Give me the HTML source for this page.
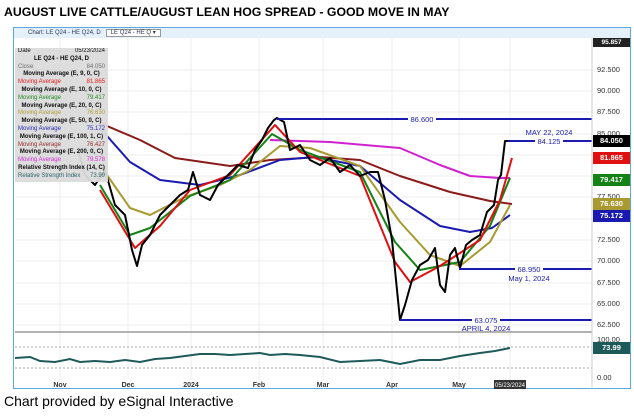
<!DOCTYPE html>
<html><head><style>
body{margin:0;width:634px;height:419px;background:#fff;font-family:"Liberation Sans",sans-serif;overflow:hidden;position:relative}
.t{position:absolute;left:4px;top:5px;font-weight:bold;font-size:12.3px;color:#000}
.c{position:absolute;left:4px;top:393px;font-size:14px;color:#000}
.lg{position:absolute;left:15px;top:48px;width:93px;height:134px;background:#dcdcdc;font-size:6px;line-height:7.8px;opacity:.95}
.lg div{display:flex;justify-content:space-between;padding:0 3px}
.lg .h{justify-content:center;font-weight:bold;color:#000}
.bx{position:absolute;left:593px;width:37px;height:12px;color:#fff;font-size:7.5px;font-weight:bold;text-align:center;line-height:12px}
.ax{position:absolute;left:597px;font-size:7.5px;color:#333}
</style></head><body>
<div class="t">AUGUST LIVE CATTLE/AUGUST LEAN HOG SPREAD -  GOOD MOVE IN MAY</div>
<div style="position:absolute;left:13px;top:27px;width:618px;height:362px;border:1px solid #5aa9e0;box-sizing:border-box"></div>
<div style="position:absolute;left:14px;top:28px;width:616px;height:10px;background:#e4f1fb;font-size:6px;color:#335;line-height:10px;padding-left:14px;box-sizing:border-box">Chart: LE Q24 - HE Q24, D &nbsp;&nbsp;<span style="border:1px solid #999;background:#fff;padding:0 4px">LE Q24 - HE Q ▾</span></div>
<svg width="634" height="419" style="position:absolute;left:0;top:0">
<g stroke="#eee" stroke-width="1">
<line x1="60" y1="38" x2="60" y2="380"/><line x1="128" y1="38" x2="128" y2="380"/><line x1="191" y1="38" x2="191" y2="380"/><line x1="259" y1="38" x2="259" y2="380"/><line x1="323" y1="38" x2="323" y2="380"/><line x1="392" y1="38" x2="392" y2="380"/><line x1="459" y1="38" x2="459" y2="380"/><line x1="510" y1="38" x2="510" y2="380"/>
<line x1="15" y1="70" x2="592" y2="70"/><line x1="15" y1="91" x2="592" y2="91"/><line x1="15" y1="112" x2="592" y2="112"/><line x1="15" y1="134" x2="592" y2="134"/><line x1="15" y1="155" x2="592" y2="155"/><line x1="15" y1="176" x2="592" y2="176"/><line x1="15" y1="197" x2="592" y2="197"/><line x1="15" y1="219" x2="592" y2="219"/><line x1="15" y1="240" x2="592" y2="240"/><line x1="15" y1="261" x2="592" y2="261"/><line x1="15" y1="283" x2="592" y2="283"/><line x1="15" y1="304" x2="592" y2="304"/><line x1="15" y1="325" x2="592" y2="325"/>
</g>
<line x1="15" y1="332" x2="592" y2="332" stroke="#999" stroke-width="1.5"/>
<line x1="15" y1="347" x2="592" y2="347" stroke="#aaa" stroke-dasharray="2,2"/>
<line x1="15" y1="368" x2="592" y2="368" stroke="#aaa" stroke-dasharray="2,2"/>
<g fill="none" stroke-width="2" stroke-linejoin="round">
<polyline stroke="#8b1a1a" points="100,123 140,140 175,158 230,166 270,160 320,157 360,160 400,176 450,192 490,201 512,204"/>
<polyline stroke="#d020d0" points="270,140 330,142 400,148 440,165 470,176 500,178 510,178"/>
<polyline stroke="#1a1ab0" points="100,128 130,162 160,180 200,185 240,175 280,160 315,157 360,166 400,200 440,226 470,232 492,228 510,215"/>
<polyline stroke="#a89a30" points="100,165 130,208 150,215 185,197 220,185 250,170 280,146 310,148 360,166 400,222 430,255 460,266 490,242 510,205"/>
<polyline stroke="#148214" points="100,185 130,235 150,228 190,196 230,180 272,134 300,150 360,172 395,242 420,270 460,262 490,226 510,178"/>
<polyline stroke="#e01010" points="100,190 135,248 160,226 190,190 230,175 275,125 300,152 360,176 395,262 410,282 440,266 480,240 500,200 512,158"/>
<polyline stroke="#000" points="78,150 85,175 95,185 105,170 115,205 125,215 132,250 137,266 142,245 150,235 160,215 170,205 180,195 188,190 193,172 200,195 210,200 218,185 228,175 238,165 248,168 255,150 262,140 268,128 274,120 277,118 284,122 290,150 300,145 310,160 320,165 330,158 340,172 350,165 360,176 370,172 378,172 385,200 392,240 396,280 400,320 405,305 412,280 420,265 428,260 435,248 440,285 445,292 450,255 455,248 460,268 466,245 472,240 480,235 487,212 494,205 498,180 501,175 505,141 510,141"/>
</g>
<g stroke="#1a1ab0" stroke-width="2">
<line x1="277" y1="119" x2="592" y2="119"/><line x1="508" y1="141" x2="592" y2="141"/><line x1="459" y1="269" x2="592" y2="269"/><line x1="400" y1="320" x2="592" y2="320"/>
</g>
<g font-size="7.5" fill="#1a1ab0" text-anchor="middle" font-family="Liberation Sans">
<rect x="408" y="115" width="28" height="8" fill="#fff"/><text x="422" y="122">86.600</text>
<text x="549" y="135">MAY 22, 2024</text><rect x="535" y="137" width="28" height="8" fill="#fff"/><text x="549" y="144">84.125</text>
<rect x="515" y="265" width="28" height="8" fill="#fff"/><text x="529" y="272">68.950</text><text x="529" y="281">May 1, 2024</text>
<rect x="472" y="316" width="28" height="8" fill="#fff"/><text x="486" y="323">63.075</text><text x="486" y="331">APRIL 4, 2024</text>
</g>
<polyline fill="none" stroke="#1f5a5a" stroke-width="2" points="15,358 30,357 40,361 55,362 70,359 80,362 95,361 110,362 125,360 140,362 155,359 170,358 185,356 200,354 215,354 230,355 245,354 260,353 270,355 285,354 300,355 320,357 340,362 360,361 380,360 400,364 420,360 440,360 460,356 480,353 495,351 510,348"/>
<g font-size="7" fill="#333" font-weight="bold" font-family="Liberation Sans" text-anchor="middle">
<text x="60" y="387">Nov</text><text x="128" y="387">Dec</text><text x="191" y="387">2024</text><text x="259" y="387">Feb</text><text x="323" y="387">Mar</text><text x="392" y="387">Apr</text><text x="459" y="387">May</text>
</g>
<rect x="494" y="380" width="32" height="9" fill="#333"/><text x="510" y="387" font-size="6" fill="#fff" text-anchor="middle" font-family="Liberation Sans">05/23/2024</text>
<line x1="592" y1="38" x2="592" y2="389" stroke="#ccc"/>
</svg>
<div class="ax" style="top:65px">92.500</div><div class="ax" style="top:86px">90.000</div><div class="ax" style="top:107px">87.500</div><div class="ax" style="top:129px">85.000</div><div class="ax" style="top:192px">77.500</div><div class="ax" style="top:235px">72.500</div><div class="ax" style="top:256px">70.000</div><div class="ax" style="top:278px">67.500</div><div class="ax" style="top:299px">65.000</div><div class="ax" style="top:320px">62.500</div>
<div class="ax" style="top:335px">100.00</div><div class="ax" style="top:373px">0.00</div>
<div class="bx" style="top:38px;background:#222;height:9px;line-height:9px;font-size:6.5px">95.857</div>
<div class="bx" style="top:135px;background:#000">84.050</div>
<div class="bx" style="top:152px;background:#e01010">81.865</div>
<div class="bx" style="top:174px;background:#148214">79.417</div>
<div class="bx" style="top:198px;background:#a89a30">76.630</div>
<div class="bx" style="top:210px;background:#1a1ab0">75.172</div>
<div class="bx" style="top:342px;background:#1f5a5a">73.99</div>
<div class="lg">
<div><span>Date</span><span>05/23/2024</span></div>
<div class="h">LE Q24 - HE Q24, D</div>
<div style="color:#666"><span>Close</span><span>84.050</span></div>
<div class="h">Moving Average (E, 9, 0, C)</div>
<div style="color:#e01010"><span>Moving Average</span><span>81.865</span></div>
<div class="h">Moving Average (E, 10, 0, C)</div>
<div style="color:#148214"><span>Moving Average</span><span>79.417</span></div>
<div class="h">Moving Average (E, 20, 0, C)</div>
<div style="color:#a89a30"><span>Moving Average</span><span>76.630</span></div>
<div class="h">Moving Average (E, 50, 0, C)</div>
<div style="color:#1a1ab0"><span>Moving Average</span><span>75.172</span></div>
<div class="h">Moving Average (E, 100, 1, C)</div>
<div style="color:#8b1a1a"><span>Moving Average</span><span>76.427</span></div>
<div class="h">Moving Average (E, 200, 0, C)</div>
<div style="color:#d020d0"><span>Moving Average</span><span>79.578</span></div>
<div class="h">Relative Strength Index (14, C)</div>
<div style="color:#1f5a5a"><span>Relative Strength Index</span><span>73.99</span></div>
</div>
<div class="c">Chart provided by eSignal Interactive</div>
</body></html>
